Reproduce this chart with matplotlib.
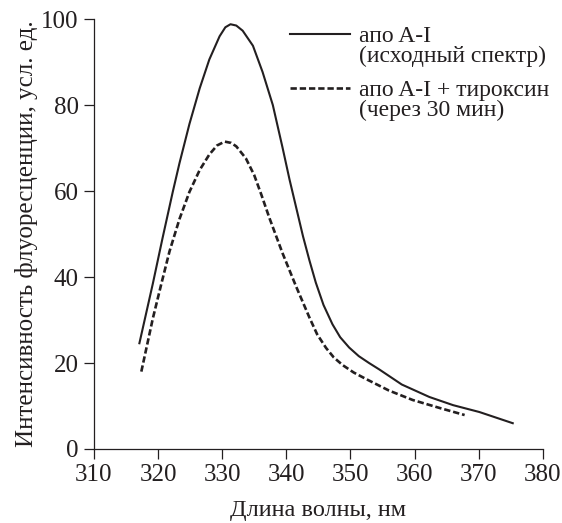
import matplotlib
matplotlib.use('Agg')
import matplotlib.pyplot as plt

plt.rcParams['font.family'] = ['Liberation Serif', 'DejaVu Serif']

# Spectrum
wl_initial = [317.1, 319.2, 320.7, 322.3, 323.35, 324.9, 326.5, 328.0, 329.6,
              330.5, 331.3, 332.2, 333.2, 334.8, 336.3, 337.9, 339.4, 340.5,
              342.6, 343.6, 344.6, 345.8, 347.2, 348.4, 349.8, 351.3, 352.9,
              354.5, 358.0, 362.3, 366.0, 370.1, 375.3]
int_initial = [24.6, 38.5, 49.0, 59.8, 66.5, 75.6, 83.9, 90.6, 96.0,
               98.1, 98.8, 98.5, 97.3, 93.8, 87.7, 80.0, 70.2, 62.7,
               49.5, 43.9, 38.7, 33.5, 29.0, 26.0, 23.6, 21.6, 20.0,
               18.5, 15.0, 12.1, 10.2, 8.6, 6.0]

wl_thyroxine = [317.4, 319.2, 320.5, 321.8, 323.35, 324.9, 326.5, 328.0, 329.2,
                330.4, 331.4, 332.2, 333.7, 335.0, 336.1, 337.4, 339.4, 341.5,
                343.6, 344.8, 346.2, 347.4, 348.8, 350.5, 352.4, 356.0, 359.7,
                364.0, 367.8]
int_thyroxine = [18.0, 30.4, 38.3, 46.0, 53.5, 59.8, 64.9, 68.5, 70.6,
                 71.5, 71.2, 70.4, 67.6, 63.7, 59.2, 53.6, 45.6, 37.9,
                 30.6, 26.7, 23.5, 21.3, 19.5, 17.8, 16.3, 13.6, 11.4,
                 9.5, 7.9]

label_initial = ['апо A-I', '(исходный спектр)']
label_thyroxine = ['апо A-I + тироксин', '(через 30 мин)']

ink = '#231f20'

fig = plt.figure(figsize=(5.62, 5.23), dpi=100)
ax = fig.add_axes([0.167, 0.1415, 0.799, 0.822])

l1, = ax.plot(wl_initial, int_initial, color=ink, linewidth=1.5,
              solid_joinstyle='round')
l2, = ax.plot(wl_thyroxine, int_thyroxine, color=ink, linewidth=1.9,
              linestyle=(0, (2.4, 1.1)))

ax.set_xlim(310, 380)
ax.set_ylim(0, 100)
ax.set_xticks(range(310, 381, 10))
ax.set_yticks(range(0, 101, 20))
for s in ['top', 'right']:
    ax.spines[s].set_visible(False)
for s in ['left', 'bottom']:
    ax.spines[s].set_linewidth(0.9)
    ax.spines[s].set_color(ink)
ax.tick_params(direction='out', length=7, width=0.9, color=ink,
               labelsize=18, labelcolor=ink, pad=4)

ax.set_xlabel('Длина волны, нм', fontsize=17.5, color=ink, labelpad=10)
ax.set_ylabel('Интенсивность флуоресценции, усл. ед.', fontsize=18,
              color=ink, labelpad=2)

blank = plt.Line2D([], [], linestyle='none')
leg_kw = dict(frameon=False, fontsize=17, handlelength=2.55, handletextpad=0.38,
              labelspacing=-0.06, borderpad=0, borderaxespad=0,
              loc='upper left', labelcolor=ink)
leg1 = ax.legend([l1, blank], label_initial,
                 bbox_to_anchor=(0.437, 0.985), **leg_kw)
ax.add_artist(leg1)
ax.legend([l2, blank], label_thyroxine,
          bbox_to_anchor=(0.437, 0.86), **leg_kw)

fig.savefig('out.png', dpi=100)
